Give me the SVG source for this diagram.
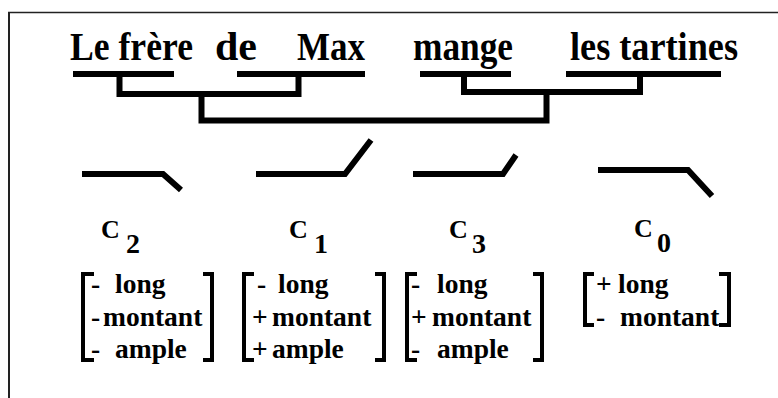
<svg xmlns="http://www.w3.org/2000/svg" width="778" height="398" viewBox="0 0 778 398">
<style>
text{font-family:"Liberation Serif","Times New Roman",serif;font-weight:bold;fill:#000}
.w{font-size:40px}
.m{font-size:27.5px}
.c{font-size:26px}
.s{font-size:28px}
.bar{stroke:#000;stroke-width:6;fill:none}
.br{stroke:#000;stroke-width:4;fill:none}
.ct{stroke:#000;stroke-width:6;fill:none;stroke-linejoin:miter}
</style>
<rect width="778" height="398" fill="#fff"/>
<g id="frame">
<line x1="8" y1="12.5" x2="778" y2="12.5" stroke="#222" stroke-width="1.5"/>
<line x1="9" y1="12" x2="9" y2="398" stroke="#222" stroke-width="2"/>
</g>
<g id="word-le-frere"><text class="w" x="70" y="60" textLength="123" lengthAdjust="spacingAndGlyphs">Le frère</text><line class="bar" x1="73" y1="74" x2="174" y2="74"/></g>
<g id="word-de"><text class="w" x="215" y="60" textLength="42" lengthAdjust="spacingAndGlyphs">de</text></g>
<g id="word-max"><text class="w" x="297" y="60" textLength="68" lengthAdjust="spacingAndGlyphs">Max</text><line class="bar" x1="237" y1="74" x2="365" y2="74"/></g>
<g id="word-mange"><text class="w" x="413" y="60" textLength="100" lengthAdjust="spacingAndGlyphs">mange</text><line class="bar" x1="420" y1="74" x2="511" y2="74"/></g>
<g id="word-les-tartines"><text class="w" x="570" y="60" textLength="168" lengthAdjust="spacingAndGlyphs">les tartines</text><line class="bar" x1="566" y1="74" x2="721" y2="74"/></g>
<g id="connectors">
<path class="bar" d="M119.5,77 V94 H298.5 V77"/>
<path class="bar" d="M464,77 V92 H640 V77"/>
<path class="bar" d="M201.5,94 V120.5 H546.5 V92"/>
</g>
<g id="c2">
<path class="ct" d="M82,174 H163 L181,190"/>
<text class="c" x="101" y="238">C</text><text class="s" x="126" y="253">2</text>
<path class="br" d="M94,274 H83 V360 H94"/><path class="br" d="M203,274 H212 V360 H203"/>
<text class="m" y="293"><tspan x="91">-</tspan><tspan x="115">long</tspan></text>
<text class="m" y="326"><tspan x="91">-</tspan><tspan x="103">montant</tspan></text>
<text class="m" y="358"><tspan x="91">-</tspan><tspan x="115">ample</tspan></text>
</g>
<g id="c1">
<path class="ct" d="M256,174 H345 L371,140"/>
<text class="c" x="289" y="238">C</text><text class="s" x="314" y="253">1</text>
<path class="br" d="M254,274 H244 V360 H254"/><path class="br" d="M375,274 H384 V360 H375"/>
<text class="m" y="293"><tspan x="257">-</tspan><tspan x="278">long</tspan></text>
<text class="m" y="326"><tspan x="252">+</tspan><tspan x="272">montant</tspan></text>
<text class="m" y="358"><tspan x="252">+</tspan><tspan x="272">ample</tspan></text>
</g>
<g id="c3">
<path class="ct" d="M413,174 H503 L516,155"/>
<text class="c" x="449" y="238">C</text><text class="s" x="472" y="253">3</text>
<path class="br" d="M417,274 H407 V360 H417"/><path class="br" d="M533,274 H542 V360 H533"/>
<text class="m" y="293"><tspan x="411">-</tspan><tspan x="437">long</tspan></text>
<text class="m" y="326"><tspan x="411">+</tspan><tspan x="432">montant</tspan></text>
<text class="m" y="358"><tspan x="411">-</tspan><tspan x="437">ample</tspan></text>
</g>
<g id="c0">
<path class="ct" d="M598,170 H688 L712,196"/>
<text class="c" x="634" y="237">C</text><text class="s" x="657" y="252">0</text>
<path class="br" d="M594,274 H585 V325 H594"/><path class="br" d="M719,274 H729 V325 H719"/>
<text class="m" y="293"><tspan x="596">+</tspan><tspan x="618">long</tspan></text>
<text class="m" y="326"><tspan x="596">-</tspan><tspan x="620">montant</tspan></text>
</g>
</svg>
